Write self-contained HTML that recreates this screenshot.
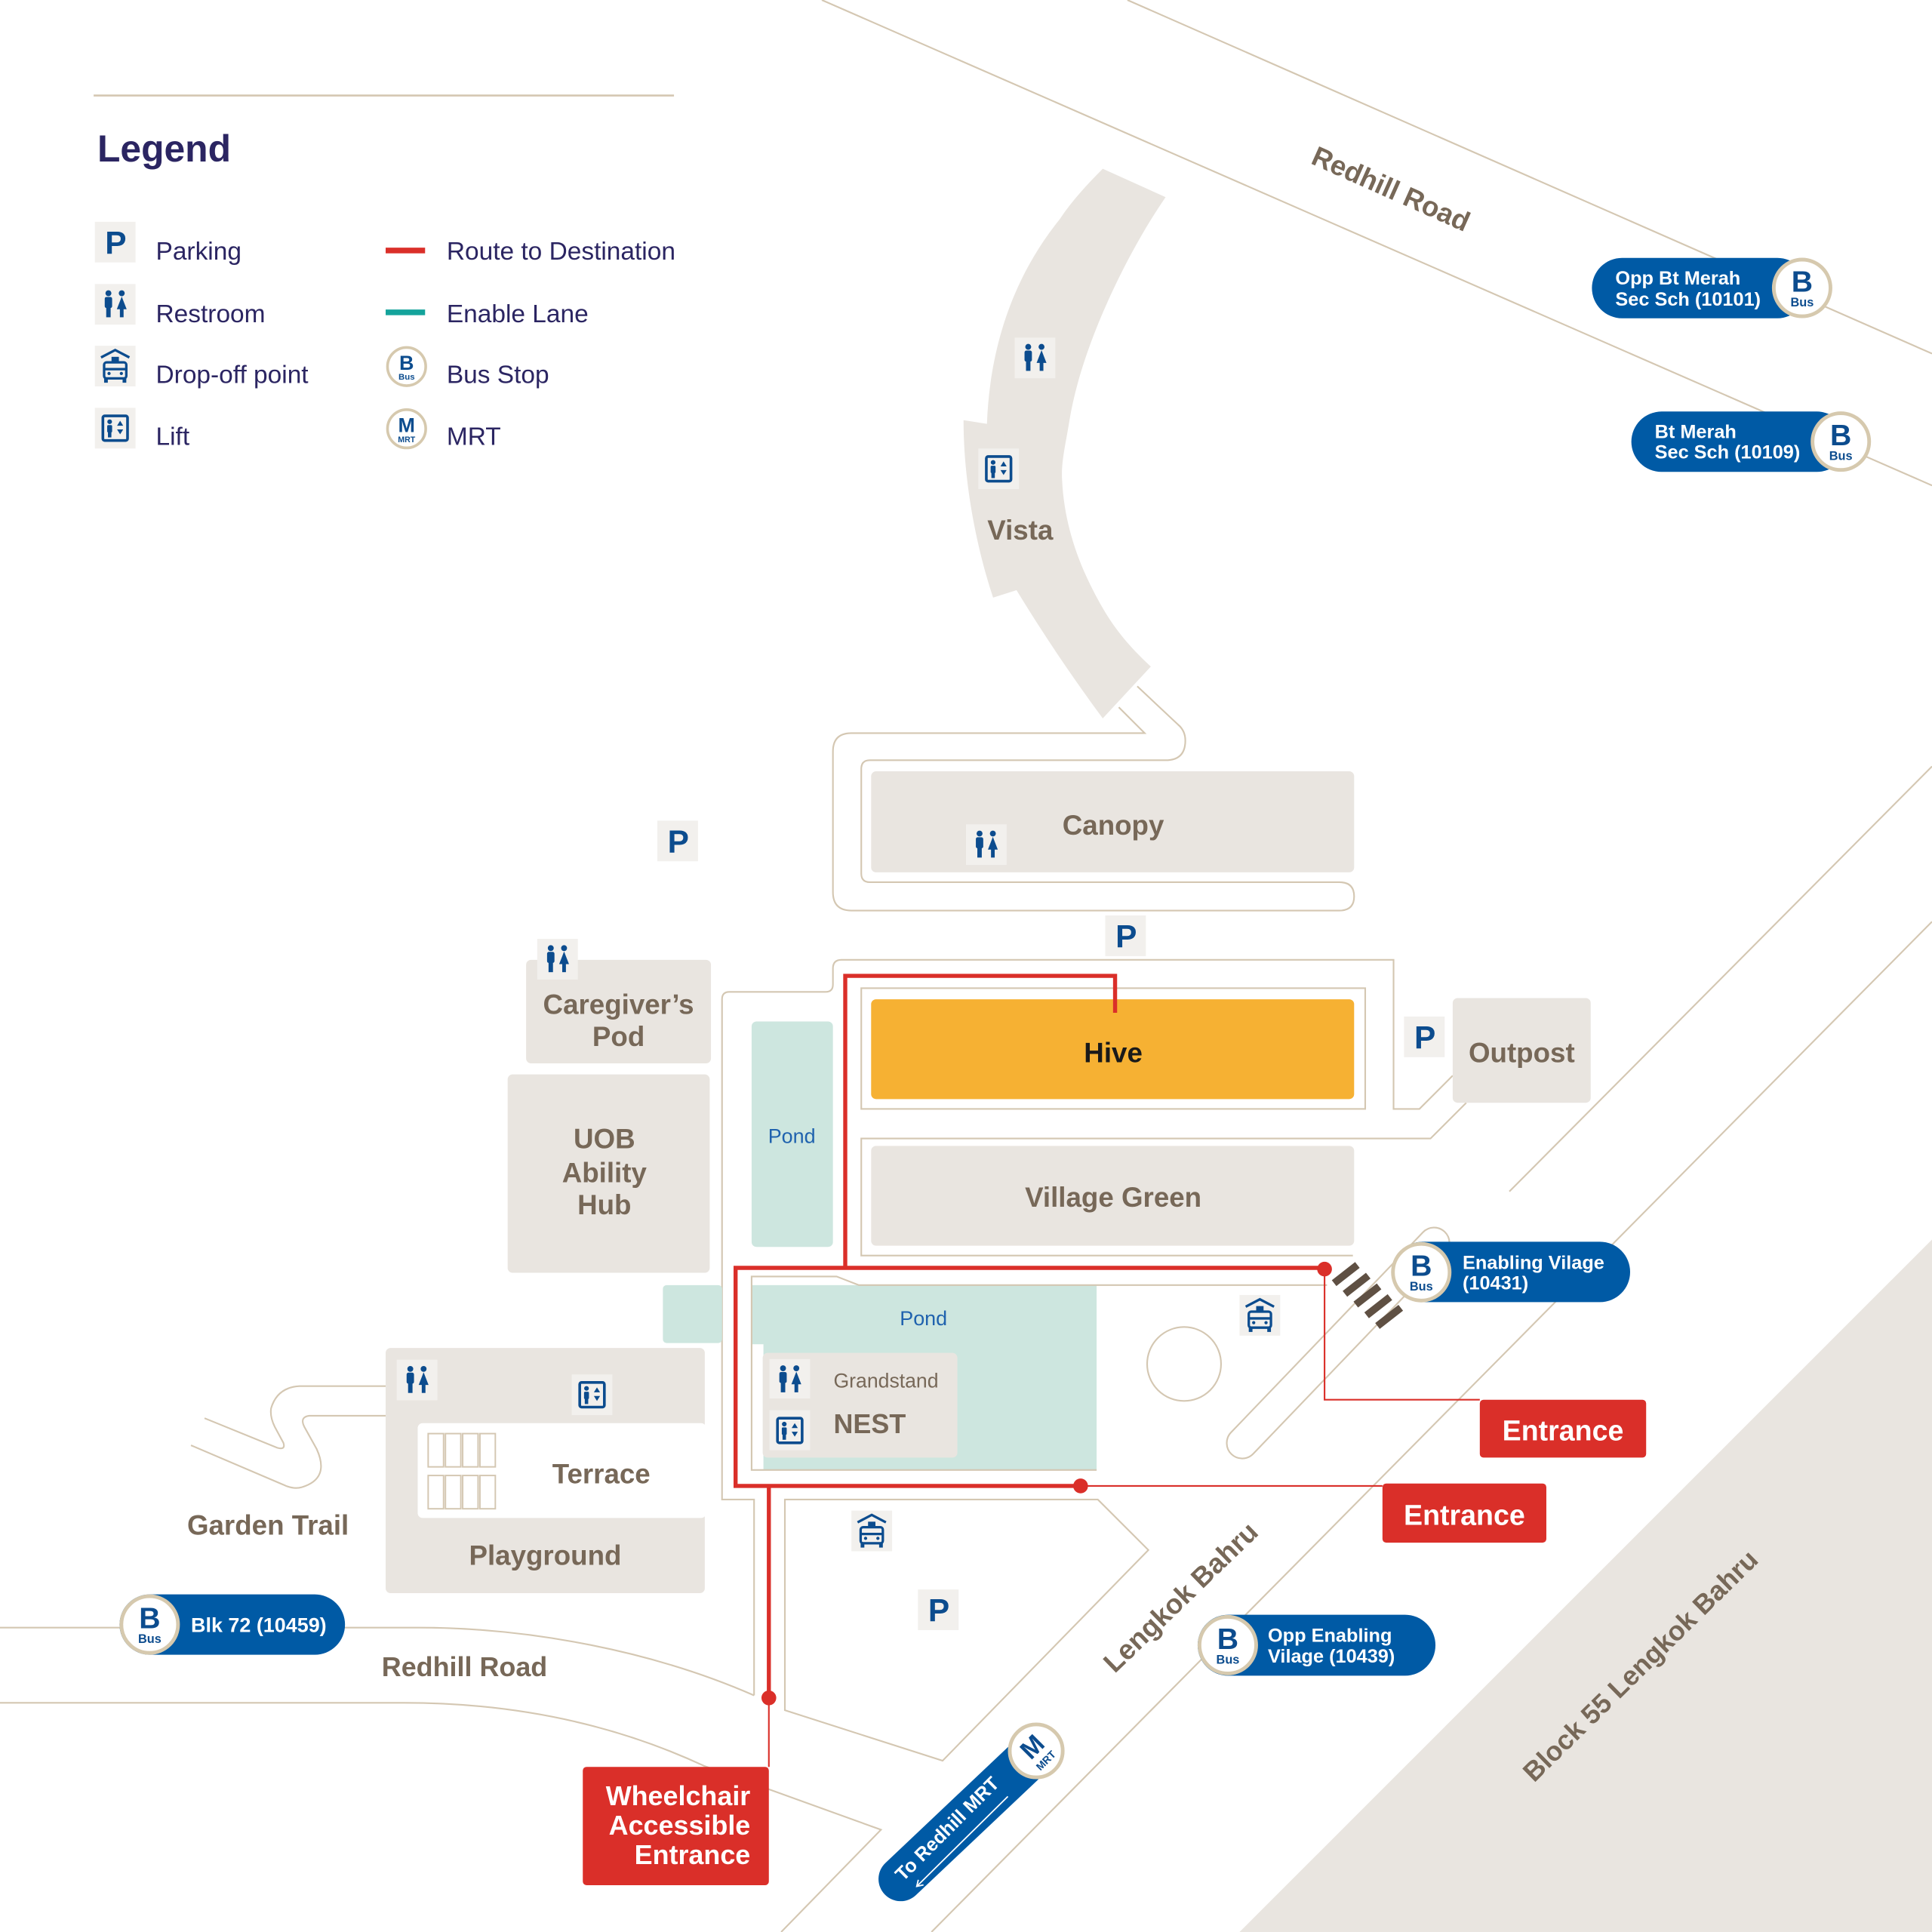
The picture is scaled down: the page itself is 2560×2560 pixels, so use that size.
<!DOCTYPE html>
<html><head><meta charset="utf-8"><style>
html,body{margin:0;padding:0;background:#fff;}
svg{display:block;}
text{font-family:"Liberation Sans",sans-serif;}
</style></head><body>
<svg width="2560" height="2560" viewBox="0 0 1568 1568" xmlns="http://www.w3.org/2000/svg">
<rect width="1568" height="1568" fill="#fff"/>
<polygon points="1568,1006 1006,1568 1568,1568" fill="#e9e5e0"/>

<g fill="none" stroke="#d4c7b2" stroke-width="1.3">
 <line x1="76" y1="77.5" x2="547" y2="77.5" stroke-width="1.6"/>
 <line x1="915" y1="0" x2="1568" y2="287"/>
 <line x1="667" y1="0" x2="1568" y2="394"/>
 <line x1="1225" y1="967" x2="1568" y2="622"/>
 <line x1="1568" y1="748" x2="756" y2="1568"/>
 <path d="M0,1321 L340,1321 C430,1321 530,1340 612,1376"/>
 <path d="M0,1382 L328,1382 C420,1382 500,1400 571,1433 L715,1485 L634,1568"/>
 <polygon points="637,1217 891,1217 932,1258 765,1429 637,1388"/>
 <path d="M908,574 L929,595 L691,595 Q676,595 676,610 L676,724 Q676,739 691,739 L1087,739 Q1099,739 1099,727.5 Q1099,716 1087,716 L706,716 Q699,716 699,709 L699,624 Q699,617 706,617 L946,617 Q962,617 962,601 Q962,593 956,588 L923,557"/>
 <path d="M612,1376 L612,1217 L586,1217 L586,811 Q586,805 592,805 L670,805 Q676,805 676,799 L676,786 Q676,779 683,779 L1131,779 L1131,900 L1152,900 L1179,873"/>
 <rect x="699" y="802" width="409" height="98"/>
 <path d="M1190,895 L1161,924 L699,924 L699,1019 L1098,1019"/>
 <path d="M313,1125 L243,1125 Q225,1126 220,1143 Q219,1150 223,1158 L230,1171 Q232,1177 225,1175 L166,1151"/>
 <path d="M313,1149 L251,1149 Q243,1150 247,1158 L257,1176 Q268,1200 245,1207 Q238,1209 230,1205 L155,1173"/>
 <circle cx="961" cy="1107" r="30"/>
 <rect x="-125" y="-12.5" width="250" height="25" rx="12.5" transform="translate(1086,1090) rotate(-46.2)"/>
</g>

<!-- Buildings -->
<g fill="#e9e5e0">
 <path d="M895,137 L946,160 C915,205 878,280 868,341 C865,360 861,375 862,390 C864,430 878,465 897,497 C908,515 920,528 934,541 L895,583 C875,556 850,520 825,479 L806,485 C796,455 782,400 782,341 L801,344 C803,290 818,230 860,178 C870,163 882,150 895,137 Z"/>
 <rect x="707" y="626" width="392" height="82" rx="4"/>
 <rect x="1179" y="810" width="112" height="85" rx="4"/>
 <rect x="707" y="930" width="392" height="81" rx="4"/>
 <rect x="427" y="779" width="150" height="84" rx="4"/>
 <rect x="412" y="872" width="164" height="161" rx="4"/>
 <rect x="313" y="1094" width="259" height="199" rx="4"/>
</g>
<rect x="339" y="1155" width="234" height="77" rx="4" fill="#fff"/>
<g fill="none" stroke="#d4c7b2" stroke-width="1.2">
 <rect x="347.5" y="1163.5" width="12.5" height="27"/><rect x="361.5" y="1163.5" width="12.5" height="27"/><rect x="375.5" y="1163.5" width="12.5" height="27"/><rect x="389.5" y="1163.5" width="12.5" height="27"/>
 <rect x="347.5" y="1197.5" width="12.5" height="27"/><rect x="361.5" y="1197.5" width="12.5" height="27"/><rect x="375.5" y="1197.5" width="12.5" height="27"/><rect x="389.5" y="1197.5" width="12.5" height="27"/>
</g>
<rect x="707" y="811" width="392" height="81" rx="4" fill="#f6b133"/>

<!-- Ponds -->
<g fill="#cde6df">
 <rect x="610" y="829" width="66" height="183" rx="4"/>
 <rect x="538" y="1043" width="48" height="47" rx="3"/>
 <rect x="610" y="1043" width="280" height="150"/>
</g>
<rect x="610.6" y="1091" width="9" height="101.5" fill="#fff"/>
<rect x="619" y="1098" width="158" height="85" rx="4" fill="#e9e5e0"/>
<path d="M1077,1043 L697,1043 L679,1036 L610,1036 L610,1193 L890,1193" fill="none" stroke="#d4c7b2" stroke-width="1.3"/>

<!-- Zebra -->
<g fill="#5f5043">
 <rect x="-12" y="-3" width="24" height="6" transform="translate(1092.2,1034) rotate(-38)"/>
 <rect x="-12" y="-3" width="24" height="6" transform="translate(1101,1042.7) rotate(-38)"/>
 <rect x="-12" y="-3" width="24" height="6" transform="translate(1109.8,1051.4) rotate(-38)"/>
 <rect x="-12" y="-3" width="24" height="6" transform="translate(1118.6,1060.1) rotate(-38)"/>
 <rect x="-12" y="-3" width="24" height="6" transform="translate(1127.4,1068.8) rotate(-38)"/>
</g>

<!-- Red route -->
<g fill="none" stroke="#da2f29">
 <path d="M905,822 L905,792 L686,792 L686,1029" stroke-width="3.3"/>
 <path d="M1075,1029 L597,1029 L597,1206 L877,1206" stroke-width="3.3"/>
 <path d="M624,1206 L624,1378" stroke-width="3.3"/>
 <path d="M1075,1030 L1075,1136 L1201,1136" stroke-width="1.3"/>
 <path d="M877,1206 L1122,1206" stroke-width="1.3"/>
 <path d="M624,1378 L624,1434" stroke-width="1.3"/>
</g>
<g fill="#da2f29">
 <circle cx="1075" cy="1030" r="6"/>
 <circle cx="877" cy="1206" r="6"/>
 <circle cx="624" cy="1378" r="6"/>
 <rect x="1201" y="1136" width="135" height="47" rx="3"/>
 <rect x="1122" y="1204" width="133" height="48" rx="3"/>
 <rect x="473" y="1434" width="151" height="96" rx="3"/>
</g>
<g fill="#fff" font-weight="700" font-size="23">
 <text x="1268.5" y="1169" text-anchor="middle">Entrance</text>
 <text x="1188.5" y="1237.5" text-anchor="middle">Entrance</text>
 <text x="609" y="1465" text-anchor="end" font-size="22">Wheelchair</text>
 <text x="609" y="1489" text-anchor="end" font-size="22">Accessible</text>
 <text x="609" y="1513" text-anchor="end" font-size="22">Entrance</text>
</g>

<!-- Labels -->
<g fill="#776858" font-weight="700" font-size="22.5" text-anchor="middle">
 <text x="828" y="438">Vista</text>
 <text x="903.5" y="677.5">Canopy</text>
 <text x="903.5" y="862" fill="#1a1a1a">Hive</text>
 <text x="1235" y="862">Outpost</text>
 <text x="903.5" y="979.5">Village Green</text>
 <text x="502" y="823">Caregiver’s</text>
 <text x="502" y="849">Pod</text>
 <text x="490.5" y="932">UOB</text>
 <text x="490.5" y="959.5">Ability</text>
 <text x="490.5" y="985.5">Hub</text>
 <text x="488" y="1204">Terrace</text>
 <text x="442.5" y="1270">Playground</text>
 <text x="217.5" y="1245.5">Garden Trail</text>
 <text x="377" y="1360.5" font-size="22">Redhill Road</text>
 <text transform="translate(1129,153) rotate(24)" y="8">Redhill Road</text>
 <text transform="translate(958,1296) rotate(-44)" y="8">Lengkok Bahru</text>
 <text transform="translate(1331,1351.5) rotate(-44.5)" y="8" font-size="22">Block 55 Lengkok Bahru</text>
 <text x="676.5" y="1163" text-anchor="start" font-size="22">NEST</text>
</g>
<text x="676.5" y="1126" fill="#776858" font-size="16.3">Grandstand</text>
<g fill="#1f62ae" font-size="16.5" text-anchor="middle">
 <text x="642.6" y="927.5">Pond</text>
 <text x="749.5" y="1075.5">Pond</text>
</g>

<!-- Legend -->
<text x="79" y="131" fill="#2b2562" font-weight="700" font-size="30.5">Legend</text>
<g fill="#2b2562" font-size="20.5">
 <text x="126.5" y="210.6">Parking</text>
 <text x="126.5" y="261.4">Restroom</text>
 <text x="126.5" y="311">Drop-off point</text>
 <text x="126.5" y="361">Lift</text>
 <text x="362.5" y="210.6">Route to Destination</text>
 <text x="362.5" y="261.4">Enable Lane</text>
 <text x="362.5" y="311">Bus Stop</text>
 <text x="362.5" y="361">MRT</text>
</g>
<rect x="313" y="201" width="32" height="4.6" fill="#da2f29"/>
<rect x="313" y="251.2" width="32" height="4.6" fill="#14a39b"/>
<g transform="translate(330,297.5)"><circle r="15.5" fill="#fff" stroke="#d6c9ae" stroke-width="2.2"/><text y="2.5" font-size="16.5" font-weight="700" fill="#0c4c8e" text-anchor="middle">B</text><text y="10.5" font-size="7" font-weight="700" fill="#0c4c8e" text-anchor="middle">Bus</text></g>
<g transform="translate(330,348)"><circle r="15.5" fill="#fff" stroke="#d6c9ae" stroke-width="2.2"/><text y="2.7" font-size="16.5" font-weight="700" fill="#0c4c8e" text-anchor="middle">M</text><text y="10.8" font-size="6.5" font-weight="700" fill="#0c4c8e" text-anchor="middle">MRT</text></g>

<!-- P icons -->
<g font-size="26" font-weight="700" fill="#0c4c8e" text-anchor="middle">
 <rect x="77" y="180" width="33" height="33" fill="#f2f0ed"/><text x="94" y="206">P</text>
 <rect x="533.5" y="666" width="33" height="33" fill="#f2f0ed"/><text x="550.5" y="692">P</text>
 <rect x="897" y="743" width="33" height="33" fill="#f2f0ed"/><text x="914" y="769">P</text>
 <rect x="1139.5" y="825" width="33" height="33" fill="#f2f0ed"/><text x="1156.5" y="851">P</text>
 <rect x="745" y="1290" width="33" height="33" fill="#f2f0ed"/><text x="762" y="1316">P</text>
</g>

<!-- Restroom icons -->
<g transform="translate(77,230.5)"><rect width="33" height="33" fill="#f2f0ed"/><g fill="#0c4c8e"><circle cx="11" cy="7.5" r="2.4"/><rect x="8" y="10.5" width="6" height="9" rx="1.5"/><rect x="9.2" y="18" width="3.6" height="9"/><circle cx="21.8" cy="7.5" r="2.4"/><path d="M21.8,10.2 L25.8,20.5 L17.8,20.5 Z"/><rect x="20.3" y="20" width="3" height="7"/></g></g>
<g transform="translate(823.5,274)"><rect width="33" height="33" fill="#f2f0ed"/><g fill="#0c4c8e"><circle cx="11" cy="7.5" r="2.4"/><rect x="8" y="10.5" width="6" height="9" rx="1.5"/><rect x="9.2" y="18" width="3.6" height="9"/><circle cx="21.8" cy="7.5" r="2.4"/><path d="M21.8,10.2 L25.8,20.5 L17.8,20.5 Z"/><rect x="20.3" y="20" width="3" height="7"/></g></g>
<g transform="translate(784,669)"><rect width="33" height="33" fill="#f2f0ed"/><g fill="#0c4c8e"><circle cx="11" cy="7.5" r="2.4"/><rect x="8" y="10.5" width="6" height="9" rx="1.5"/><rect x="9.2" y="18" width="3.6" height="9"/><circle cx="21.8" cy="7.5" r="2.4"/><path d="M21.8,10.2 L25.8,20.5 L17.8,20.5 Z"/><rect x="20.3" y="20" width="3" height="7"/></g></g>
<g transform="translate(436,762)"><rect width="33" height="33" fill="#f2f0ed"/><g fill="#0c4c8e"><circle cx="11" cy="7.5" r="2.4"/><rect x="8" y="10.5" width="6" height="9" rx="1.5"/><rect x="9.2" y="18" width="3.6" height="9"/><circle cx="21.8" cy="7.5" r="2.4"/><path d="M21.8,10.2 L25.8,20.5 L17.8,20.5 Z"/><rect x="20.3" y="20" width="3" height="7"/></g></g>
<g transform="translate(322,1103.5)"><rect width="33" height="33" fill="#f2f0ed"/><g fill="#0c4c8e"><circle cx="11" cy="7.5" r="2.4"/><rect x="8" y="10.5" width="6" height="9" rx="1.5"/><rect x="9.2" y="18" width="3.6" height="9"/><circle cx="21.8" cy="7.5" r="2.4"/><path d="M21.8,10.2 L25.8,20.5 L17.8,20.5 Z"/><rect x="20.3" y="20" width="3" height="7"/></g></g>
<g transform="translate(624.5,1103)"><rect width="33" height="32" fill="#f2f0ed"/><g fill="#0c4c8e"><circle cx="11" cy="7.5" r="2.4"/><rect x="8" y="10.5" width="6" height="9" rx="1.5"/><rect x="9.2" y="18" width="3.6" height="9"/><circle cx="21.8" cy="7.5" r="2.4"/><path d="M21.8,10.2 L25.8,20.5 L17.8,20.5 Z"/><rect x="20.3" y="20" width="3" height="7"/></g></g>

<!-- Lift icons -->
<g transform="translate(77,331)"><rect width="33" height="33" fill="#f2f0ed"/><rect x="6.5" y="6.5" width="20" height="20" rx="1.5" fill="none" stroke="#0c4c8e" stroke-width="2.2"/><g fill="#0c4c8e"><circle cx="12" cy="11.3" r="1.9"/><rect x="10" y="14" width="4" height="6" rx="1"/><rect x="10.6" y="19" width="2.8" height="5"/><path d="M20.5,10.5 L23,14.5 L18,14.5Z M18,17.5 L23,17.5 L20.5,21.5Z"/></g></g>
<g transform="translate(794,364)"><rect width="33" height="33" fill="#f2f0ed"/><rect x="6.5" y="6.5" width="20" height="20" rx="1.5" fill="none" stroke="#0c4c8e" stroke-width="2.2"/><g fill="#0c4c8e"><circle cx="12" cy="11.3" r="1.9"/><rect x="10" y="14" width="4" height="6" rx="1"/><rect x="10.6" y="19" width="2.8" height="5"/><path d="M20.5,10.5 L23,14.5 L18,14.5Z M18,17.5 L23,17.5 L20.5,21.5Z"/></g></g>
<g transform="translate(464,1115.5)"><rect width="33" height="33" fill="#f2f0ed"/><rect x="6.5" y="6.5" width="20" height="20" rx="1.5" fill="none" stroke="#0c4c8e" stroke-width="2.2"/><g fill="#0c4c8e"><circle cx="12" cy="11.3" r="1.9"/><rect x="10" y="14" width="4" height="6" rx="1"/><rect x="10.6" y="19" width="2.8" height="5"/><path d="M20.5,10.5 L23,14.5 L18,14.5Z M18,17.5 L23,17.5 L20.5,21.5Z"/></g></g>
<g transform="translate(624.5,1144.5)"><rect width="33" height="32.5" fill="#f2f0ed"/><rect x="6.5" y="6.5" width="20" height="20" rx="1.5" fill="none" stroke="#0c4c8e" stroke-width="2.2"/><g fill="#0c4c8e"><circle cx="12" cy="11.3" r="1.9"/><rect x="10" y="14" width="4" height="6" rx="1"/><rect x="10.6" y="19" width="2.8" height="5"/><path d="M20.5,10.5 L23,14.5 L18,14.5Z M18,17.5 L23,17.5 L20.5,21.5Z"/></g></g>

<!-- Drop-off icons -->
<g transform="translate(77,280.6)"><rect width="33" height="33" fill="#f2f0ed"/><g fill="none" stroke="#0c4c8e" stroke-width="2"><path d="M5,9.5 L16.5,3.5 L28,9.5"/><rect x="7.5" y="13.5" width="18" height="13" rx="2"/><line x1="7.5" y1="19" x2="25.5" y2="19"/></g><g fill="#0c4c8e"><rect x="13.5" y="9" width="6" height="4"/><rect x="7.5" y="26" width="3" height="4"/><rect x="22.5" y="26" width="3" height="4"/><circle cx="11.5" cy="22.5" r="1.3"/><circle cx="21.5" cy="22.5" r="1.3"/></g></g>
<g transform="translate(1006,1051)"><rect width="33" height="33" fill="#f2f0ed"/><g fill="none" stroke="#0c4c8e" stroke-width="2"><path d="M5,9.5 L16.5,3.5 L28,9.5"/><rect x="7.5" y="13.5" width="18" height="13" rx="2"/><line x1="7.5" y1="19" x2="25.5" y2="19"/></g><g fill="#0c4c8e"><rect x="13.5" y="9" width="6" height="4"/><rect x="7.5" y="26" width="3" height="4"/><rect x="22.5" y="26" width="3" height="4"/><circle cx="11.5" cy="22.5" r="1.3"/><circle cx="21.5" cy="22.5" r="1.3"/></g></g>
<g transform="translate(691,1226)"><rect width="33" height="33" fill="#f2f0ed"/><g fill="none" stroke="#0c4c8e" stroke-width="2"><path d="M5,9.5 L16.5,3.5 L28,9.5"/><rect x="7.5" y="13.5" width="18" height="13" rx="2"/><line x1="7.5" y1="19" x2="25.5" y2="19"/></g><g fill="#0c4c8e"><rect x="13.5" y="9" width="6" height="4"/><rect x="7.5" y="26" width="3" height="4"/><rect x="22.5" y="26" width="3" height="4"/><circle cx="11.5" cy="22.5" r="1.3"/><circle cx="21.5" cy="22.5" r="1.3"/></g></g>

<!-- Bus pills -->
<g fill="#005aa5">
 <rect x="1292" y="209.3" width="175" height="49" rx="24.5"/>
 <rect x="1324" y="334" width="175" height="49" rx="24.5"/>
 <rect x="1130" y="1007.8" width="193" height="49" rx="24.5"/>
 <rect x="972" y="1310.5" width="193" height="49.5" rx="24.7"/>
 <rect x="97" y="1294" width="183" height="49" rx="24.5"/>
</g>
<g fill="#fff" font-weight="700" font-size="15.5">
 <text x="1311" y="231">Opp Bt Merah</text>
 <text x="1311" y="248">Sec Sch (10101)</text>
 <text x="1343" y="355.5">Bt Merah</text>
 <text x="1343" y="372">Sec Sch (10109)</text>
 <text x="1187" y="1029.8">Enabling Vilage</text>
 <text x="1187" y="1046.5">(10431)</text>
 <text x="1029" y="1332.6">Opp Enabling</text>
 <text x="1029" y="1349.2">Vilage (10439)</text>
 <text x="155" y="1324.5" font-size="16.5">Blk 72 (10459)</text>
</g>
<g transform="translate(1462.6,233.7)"><circle r="23" fill="#fff" stroke="#d6c9ae" stroke-width="3"/><text y="3" font-size="24" font-weight="700" fill="#0c4c8e" text-anchor="middle">B</text><text y="15" font-size="10" font-weight="700" fill="#0c4c8e" text-anchor="middle">Bus</text></g>
<g transform="translate(1494,358.4)"><circle r="23" fill="#fff" stroke="#d6c9ae" stroke-width="3"/><text y="3" font-size="24" font-weight="700" fill="#0c4c8e" text-anchor="middle">B</text><text y="15" font-size="10" font-weight="700" fill="#0c4c8e" text-anchor="middle">Bus</text></g>
<g transform="translate(1153.5,1032.5)"><circle r="23" fill="#fff" stroke="#d6c9ae" stroke-width="3"/><text y="3" font-size="24" font-weight="700" fill="#0c4c8e" text-anchor="middle">B</text><text y="15" font-size="10" font-weight="700" fill="#0c4c8e" text-anchor="middle">Bus</text></g>
<g transform="translate(996.5,1335.2)"><circle r="23" fill="#fff" stroke="#d6c9ae" stroke-width="3"/><text y="3" font-size="24" font-weight="700" fill="#0c4c8e" text-anchor="middle">B</text><text y="15" font-size="10" font-weight="700" fill="#0c4c8e" text-anchor="middle">Bus</text></g>
<g transform="translate(121.5,1318.5)"><circle r="23" fill="#fff" stroke="#d6c9ae" stroke-width="3"/><text y="3" font-size="24" font-weight="700" fill="#0c4c8e" text-anchor="middle">B</text><text y="15" font-size="10" font-weight="700" fill="#0c4c8e" text-anchor="middle">Bus</text></g>

<!-- MRT pill -->
<line x1="731" y1="1525" x2="841" y2="1421" stroke="#005aa5" stroke-width="36" stroke-linecap="round"/>
<g stroke="#fff" stroke-width="1.1" fill="none">
 <line x1="818" y1="1458" x2="744" y2="1531"/>
 <path d="M749.5,1529.8 L744,1531 L745.3,1525.6"/>
</g>
<text transform="translate(768.5,1484) rotate(-45)" y="5.5" fill="#fff" font-weight="700" font-size="15.5" text-anchor="middle">To Redhill MRT</text>
<g transform="translate(841,1421)"><circle r="21.5" fill="#fff" stroke="#d6c9ae" stroke-width="3"/><g transform="rotate(-45)"><text y="2.5" font-size="21" font-weight="700" fill="#0c4c8e" text-anchor="middle">M</text><text y="14" font-size="8.5" font-weight="700" fill="#0c4c8e" text-anchor="middle">MRT</text></g></g>
</svg>
</body></html>
